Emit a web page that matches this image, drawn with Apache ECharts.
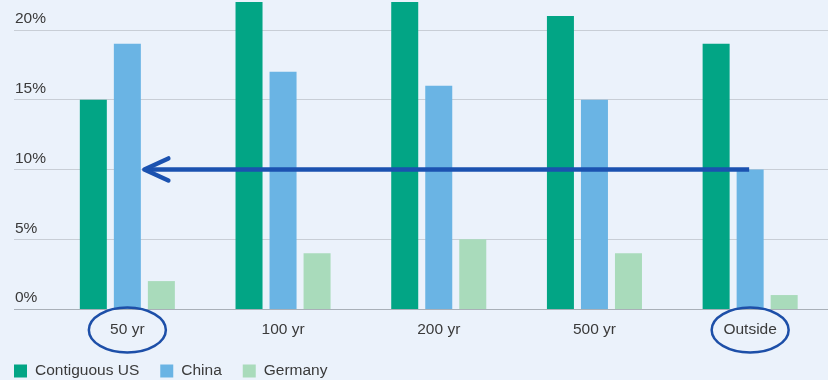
<!DOCTYPE html>
<html>
<head>
<meta charset="utf-8">
<script src="https://cdn.jsdelivr.net/npm/echarts@6/dist/echarts.min.js"></script>
<style>
html,body{margin:0;padding:0;background:#ebf2fb;}
#chart{width:828px;height:380px;}
</style>
</head>
<body>
<div id="chart"></div>
<script>
const categories = ['50 yr', '100 yr', '200 yr', '500 yr', 'Outside'];
const contiguousUS = [15, 22, 22, 21, 19];
const china = [19, 17, 16, 15, 10];
const germany = [2, 4, 5, 4, 1];
const yTicks = [0, 5, 10, 15, 20];
const arrowLevel = 10;
const arrowFrom = 'Outside';
const arrowTo = '50 yr';
const circled = ['50 yr', 'Outside'];

const FONT = '"Liberation Sans", Arial, sans-serif';
const TXT = '#3a3a3a';

const chart = echarts.init(document.getElementById('chart'), null, {renderer: 'canvas'});

const option = {
  backgroundColor: '#ebf2fb',
  animation: false,
  textStyle: {fontFamily: FONT},
  grid: [
    {left: 49.5, width: 780, top: 2, height: 307, containLabel: false},
    {left: 14, right: 0, top: 2, height: 307, containLabel: false}
  ],
  xAxis: [
    {
      type: 'category', gridIndex: 0, data: categories,
      axisLine: {show: false}, axisTick: {show: false},
      axisLabel: {color: TXT, fontSize: 15.5, fontFamily: FONT, margin: 13}
    },
    {type: 'value', gridIndex: 1, min: 0, max: 1, show: false}
  ],
  yAxis: [
    {type: 'value', gridIndex: 0, min: 0, max: 22, show: false, splitLine: {show: false}},
    {
      type: 'value', gridIndex: 1, min: 0, max: 22, interval: 5,
      axisLine: {show: false}, axisTick: {show: false},
      axisLabel: {
        inside: true, margin: 1, color: TXT, fontSize: 15.5, fontFamily: FONT,
        verticalAlign: 'bottom', lineHeight: 16, padding: [0, 0, 3, 0],
        showMaxLabel: false,
        formatter: v => (yTicks.indexOf(v) >= 0 ? v + '%' : '')
      },
      splitLine: {
        show: true, showMinLine: true, showMaxLine: false,
        lineStyle: {color: ['#a9b0b8', '#c8ced6', '#c8ced6', '#c8ced6', '#c8ced6'], width: 1}
      }
    }
  ],
  legend: {
    left: 14, top: 363, padding: 0, icon: 'rect', itemWidth: 13, itemHeight: 13, itemGap: 21,
    textStyle: {color: TXT, fontSize: 15.5, fontFamily: FONT, padding: [0, 0, 0, 3], lineHeight: 15},
    data: ['Contiguous US', 'China', 'Germany']
  },
  series: [
    {name: 'Contiguous US', type: 'bar', xAxisIndex: 0, yAxisIndex: 0, data: contiguousUS,
      barWidth: 27, barGap: '26%', itemStyle: {color: '#02a585'}},
    {name: 'China', type: 'bar', xAxisIndex: 0, yAxisIndex: 0, data: china,
      barWidth: 27, barGap: '26%', itemStyle: {color: '#6ab4e4'}},
    {name: 'Germany', type: 'bar', xAxisIndex: 0, yAxisIndex: 0, data: germany,
      barWidth: 27, barGap: '26%', itemStyle: {color: '#a9dbbb'}}
  ]
};
chart.setOption(option);

// Annotations positioned from the axis scales
const xOf = c => chart.convertToPixel({xAxisIndex: 0}, c);
const yOf = v => chart.convertToPixel({yAxisIndex: 0}, v);
const y0 = yOf(0);
const yA = yOf(arrowLevel);
const xStart = xOf(arrowFrom) - 1;
const xTip = xOf(arrowTo) + 17;
const ANN = '#1b52b0';

const graphics = [];
circled.forEach(c => {
  graphics.push({
    type: 'ellipse', z: 100,
    shape: {cx: xOf(c), cy: y0 + 21, rx: 38.5, ry: 22.5},
    style: {fill: 'none', stroke: '#1d4fa8', lineWidth: 2.5}
  });
});
graphics.push({
  type: 'line', z: 100,
  shape: {x1: xStart, y1: yA, x2: xTip + 1, y2: yA},
  style: {stroke: ANN, lineWidth: 4.5}
});
graphics.push({
  type: 'polyline', z: 100,
  shape: {points: [[xTip + 24, yA - 11], [xTip, yA], [xTip + 24, yA + 11]]},
  style: {stroke: ANN, lineWidth: 4.5, fill: null, lineCap: 'round', lineJoin: 'round'}
});
chart.setOption({graphic: graphics});
</script>
</body>
</html>
